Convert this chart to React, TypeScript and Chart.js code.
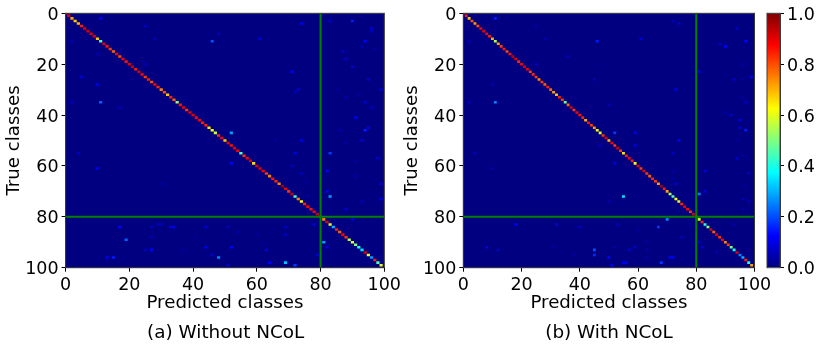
import React, { useEffect, useRef } from "react";
import { Chart, registerables } from "chart.js";

Chart.register(...registerables);

const AXIS_MAX = 100;
const xTicksTitle = "Predicted classes";
const yTicksTitle = "True classes";
const captionA = "(a) Without NCoL";
const captionB = "(b) With NCoL";

const diagonalA = [
  .88,.9,.72,.68,.7,.85,.9,.92,.9,.9,.68,.45,.9,.86,.82,.78,.88,.8,.88,.86,
  .9,.92,.85,.92,.88,.82,.85,.8,.88,.84,.75,.8,.68,.85,.78,.52,.86,.9,.82,.9,
  .9,.87,.88,.85,.85,.65,.62,.58,.84,.88,.68,.9,.86,.9,.88,.45,.83,.88,.9,.66,
  .9,.9,.88,.82,.75,.86,.84,.75,.97,.9,.83,.92,.45,.75,.63,.84,.88,.86,.88,.92,
  .9,.75,.9,.6,.3,.85,.78,.88,.82,.55,.6,.5,.4,.35,.9,.62,.28,.85,.45,.6,
];
const diagonalB = [
  .92,.85,.68,.8,.72,.8,.88,.9,.88,.85,.7,.55,.72,.82,.85,.8,.86,.92,.9,.84,
  .88,.9,.88,.82,.84,.82,.74,.82,.78,.85,.78,.72,.68,.85,.82,.48,.78,.9,.82,.88,
  .86,.85,.7,.86,.82,.72,.62,.6,.82,.9,.68,.88,.82,.92,.82,.65,.85,.88,.85,.62,
  .9,.82,.9,.82,.78,.84,.82,.72,.96,.85,.72,.55,.45,.62,.6,.84,.9,.88,.82,.92,
  .9,.58,.84,.42,.5,.9,.78,.9,.83,.88,.75,.82,.5,.4,.9,.25,.3,.85,.4,.72,
];

// [predicted, true, value]
const spotsA: [number, number, number][] = [
  [11,2,.12],[90,3,.15],[74,4,.1],[83,3,.08],[25,5,.06],[96,6,.08],[48,8,.06],[46,11,.2],[61,10,.1],[94,11,.12],
  [2,11,.05],[28,10,.05],[87,15,.08],[10,16,.05],[88,18,.08],[90,21,.08],[71,23,.12],[5,25,.08],[95,26,.08],[25,20,.05],
  [10,28,.1],[73,30,.08],[99,30,.08],[72,31,.06],[11,35,.22],[2,35,.07],[94,35,.08],[17,37,.06],[96,37,.06],[91,41,.1],
  [94,46,.15],[95,45,.1],[52,47,.28],[93,50,.08],[74,50,.1],[4,55,.07],[72,55,.1],[83,55,.18],[52,59,.12],[10,61,.1],
  [71,60,.06],[74,63,.06],[82,62,.12],[98,57,.08],[99,67,.08],[82,70,.1],[83,72,.28],[72,72,.08],[99,73,.1],[88,77,.08],
  [90,81,.1],[78,83,.1],[17,84,.12],[27,84,.06],[29,83,.06],[30,83,.06],[33,84,.1],[34,84,.1],[51,84,.06],[44,84,.08],
  [69,84,.06],[19,89,.22],[81,90,.28],[69,87,.06],[27,88,.05],[44,92,.1],[52,92,.12],[27,93,.12],[25,93,.05],[63,93,.1],
  [82,92,.1],[79,95,.08],[13,96,.12],[15,96,.15],[48,96,.25],[46,95,.08],[64,98,.12],[69,98,.32],[72,99,.18],[51,99,.08],
  [96,7,.05],[93,13,.04],[97,14,.04],[85,30,.03],[88,33,.04],[92,32,.03],[86,46,.04],[88,51,.04],[91,58,.03],[91,64,.04],
  [75,66,.03],[76,72,.03],[93,74,.04],[30,67,.03],[66,50,.03],[41,88,.03],[60,87,.03],[54,86,.04],[62,91,.03],[37,93,.03],
];
const spotsB: [number, number, number][] = [
  [11,2,.15],[72,3,.07],[74,4,.08],[25,5,.05],[94,6,.07],[46,11,.15],[61,10,.1],[97,11,.12],[90,13,.12],[2,11,.05],
  [28,10,.05],[88,12,.05],[36,17,.07],[25,20,.07],[81,23,.1],[99,25,.1],[93,26,.08],[45,26,.06],[10,28,.07],[73,30,.1],
  [11,35,.25],[2,35,.06],[50,36,.06],[97,35,.07],[92,40,.07],[95,42,.1],[97,46,.15],[95,45,.08],[52,47,.18],[59,47,.1],
  [74,50,.12],[59,52,.1],[47,52,.06],[4,55,.06],[72,55,.07],[94,57,.08],[52,59,.1],[10,61,.06],[83,62,.1],[98,63,.07],
  [73,67,.08],[81,71,.25],[83,70,.08],[55,72,.35],[50,74,.05],[96,73,.06],[98,74,.06],[70,81,.25],[18,83,.12],[32,83,.1],
  [53,83,.06],[40,84,.07],[67,84,.18],[75,88,.06],[8,92,.1],[12,93,.08],[45,93,.2],[45,95,.17],[59,92,.08],[52,92,.05],
  [57,93,.07],[82,92,.08],[81,90,.07],[50,96,.13],[71,96,.12],[72,96,.12],[68,98,.18],[51,99,.12],[55,98,.1],[56,98,.1],
  [87,94,.06],[63,90,.04],[63,93,.04],[63,96,.04],[96,20,.04],[96,26,.04],[96,33,.03],[90,39,.04],[94,50,.03],[96,56,.03],
  [72,62,.04],[72,65,.03],[97,68,.03],[96,77,.04],[93,83,.05],[78,83,.03],[31,92,.03],[38,95,.03],[60,85,.03],[48,20,.02],
];

const colorbarTicks = [0, 0.2, 0.4, 0.6, 0.8, 1];
const COLORBAR_STOPS = 24;

function jet(v: number): string {
  const ch = (c: number) => Math.round(255 * Math.max(0, Math.min(1, c)));
  const r = ch(Math.min(4 * v - 1.5, -4 * v + 4.5));
  const g = ch(Math.min(4 * v - 0.5, -4 * v + 3.5));
  const b = ch(Math.min(4 * v + 0.5, -4 * v + 2.5));
  return `rgb(${r},${g},${b})`;
}

const FONT = "'DejaVu Sans'";
const TEXT = "#000";
const SPINE = "#3a3a3a";
const TICK_SIZE = 17.5;
const TITLE_SIZE = 18.2;
// an empty first line with a tight line height lowers a y tick label by 2px
const Y_TICK_FONT = { family: FONT, size: TICK_SIZE, lineHeight: "4px" };

const framePlugin = {
  id: "frame",
  beforeDatasetsDraw(chart: any) {
    const { ctx, chartArea: a } = chart;
    ctx.save();
    ctx.fillStyle = jet(0);
    ctx.fillRect(a.left, a.top, a.width, a.height);
    ctx.restore();
  },
  afterDraw(chart: any) {
    const { ctx, chartArea: a } = chart;
    ctx.save();
    ctx.strokeStyle = SPINE;
    ctx.lineWidth = 1;
    ctx.strokeRect(a.left, a.top, a.width, a.height);
    ctx.restore();
  },
};

function axisOpts(extra: any) {
  return {
    grid: { offset: false, drawOnChartArea: false, drawTicks: true, tickLength: 4, color: "#000" },
    border: { display: true, color: SPINE },
    ...extra,
  };
}

function makePanel(canvas: HTMLCanvasElement, diagonal: number[], spots: [number, number, number][], yWidth: number, plotWidth: number) {
  const cells = [
    ...spots.map(([x, y, v]) => ({ x, y: [y - 0.5, y + 0.5], v })),
    ...diagonal.map((v, i) => ({ x: i, y: [i - 0.5, i + 0.5], v })),
  ];
  return new Chart(canvas, {
    type: "bar",
    data: {
      datasets: [
        {
          type: "bar",
          data: cells as any,
          order: 1,
          backgroundColor: cells.map((c) => jet(c.v)),
          borderWidth: 0,
          inflateAmount: 0,
          barPercentage: 1,
          categoryPercentage: 1,
          barThickness: plotWidth / AXIS_MAX,
        } as any,
        {
          type: "scatter",
          data: [{ x: 80, y: 0 }, { x: 80, y: AXIS_MAX }],
          order: 0,
          showLine: true,
          borderColor: "#008000",
          borderWidth: 2,
          pointRadius: 0,
          clip: 0,
        } as any,
        {
          type: "scatter",
          data: [{ x: 0, y: 80 }, { x: AXIS_MAX, y: 80 }],
          order: 0,
          showLine: true,
          borderColor: "#008000",
          borderWidth: 2,
          pointRadius: 0,
          clip: 0,
        } as any,
      ],
    },
    options: {
      animation: false,
      responsive: false,
      events: [],
      layout: { padding: { left: 0, right: canvas.width - yWidth - plotWidth, top: 13.3, bottom: 31.3 } },
      plugins: { legend: { display: false }, tooltip: { enabled: false }, title: { display: false } },
      scales: {
        x: axisOpts({
          type: "linear",
          min: 0,
          max: AXIS_MAX,
          offset: false,
          afterFit: (s: any) => { s.height = 50; },
          ticks: { stepSize: 20, autoSkip: false, maxRotation: 0, padding: 3, color: TEXT, font: { family: FONT, size: TICK_SIZE } },
          title: { display: true, text: xTicksTitle, color: TEXT, font: { family: FONT, size: TITLE_SIZE }, padding: { top: 0, bottom: 4 } },
        }),
        y: axisOpts({
          type: "linear",
          min: 0,
          max: AXIS_MAX,
          reverse: true,
          afterFit: (s: any) => { s.width = yWidth; },
          ticks: { stepSize: 20, autoSkip: false, padding: 3, color: TEXT, callback: (v: any) => ["", String(v)], font: Y_TICK_FONT },
          title: { display: true, text: yTicksTitle, color: TEXT, font: { family: FONT, size: TITLE_SIZE }, padding: { top: 3, bottom: 0 } },
        }),
      },
    } as any,
    plugins: [framePlugin],
  });
}

function makeColorbar(canvas: HTMLCanvasElement) {
  const bg = (ctx: any) => {
    const { chart } = ctx;
    const a = chart.chartArea;
    if (!a) return jet(0);
    const g = chart.ctx.createLinearGradient(0, a.bottom, 0, a.top);
    for (let i = 0; i <= COLORBAR_STOPS; i++) {
      g.addColorStop(i / COLORBAR_STOPS, jet(i / COLORBAR_STOPS));
    }
    return g;
  };
  return new Chart(canvas, {
    type: "bar",
    data: {
      labels: [""],
      datasets: [{ data: [[0, 1]] as any, backgroundColor: bg, borderWidth: 0, inflateAmount: 0, barPercentage: 1, categoryPercentage: 1 } as any],
    },
    options: {
      animation: false,
      responsive: false,
      events: [],
      layout: { padding: { left: 7, right: 0, top: 13.3, bottom: 81.3 } },
      plugins: { legend: { display: false }, tooltip: { enabled: false } },
      scales: {
        x: { display: false },
        y: axisOpts({
          position: "right",
          min: 0,
          max: 1,
          afterFit: (s: any) => { s.width = canvas.width - 7 - 13; },
          afterBuildTicks: (s: any) => { s.ticks = colorbarTicks.map((value) => ({ value })); },
          ticks: { autoSkip: false, padding: 3, color: TEXT, callback: (v: any) => ["", Number(v).toFixed(1)], font: Y_TICK_FONT },
        }),
      },
    } as any,
    plugins: [{
      id: "cbFrame",
      afterDraw(chart: any) {
        const { ctx, chartArea: a } = chart;
        ctx.save();
        ctx.strokeStyle = SPINE;
        ctx.strokeRect(a.left, a.top, a.width, a.height);
        ctx.restore();
      },
    }],
  });
}

const captionStyle = (center: number): React.CSSProperties => ({
  position: "absolute",
  left: center - 150,
  width: 300,
  top: 322,
  textAlign: "center",
  font: `18.4px ${FONT}`,
  color: "#000",
  lineHeight: "20px",
});

export default function App() {
  const a = useRef<HTMLCanvasElement>(null);
  const b = useRef<HTMLCanvasElement>(null);
  const c = useRef<HTMLCanvasElement>(null);
  useEffect(() => {
    const charts = [
      makePanel(a.current!, diagonalA, spotsA, 65.6, 318.7),
      makePanel(b.current!, diagonalB, spotsB, 65.3, 291.2),
      makeColorbar(c.current!),
    ];
    return () => charts.forEach((ch) => ch.destroy());
  }, []);
  return (
    <div style={{ position: "absolute", left: 0, top: 0, width: 822, height: 349, overflow: "hidden", background: "#fff" }}>
      <canvas ref={a} width={420} height={349} style={{ position: "absolute", left: 0, top: 0 }} />
      <canvas ref={b} width={385} height={349} style={{ position: "absolute", left: 398, top: 0 }} />
      <canvas ref={c} width={62} height={349} style={{ position: "absolute", left: 760, top: 0 }} />
      <div style={captionStyle(225.7)}>{captionA}</div>
      <div style={captionStyle(609)}>{captionB}</div>
    </div>
  );
}
